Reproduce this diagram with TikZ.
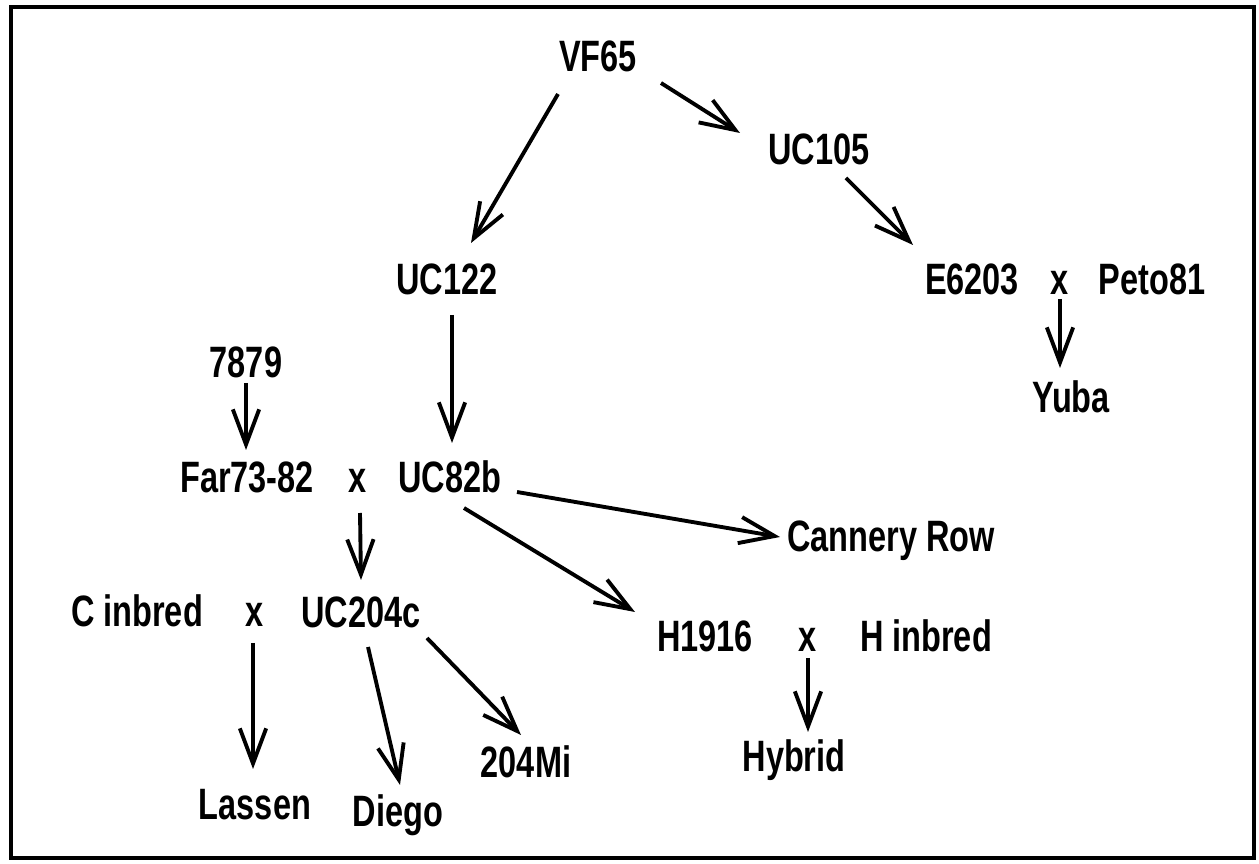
\documentclass[tikz,border=0pt]{standalone}
\usepackage{fontspec}
\setmainfont{Liberation Sans}[FakeStretch=0.74]
\usetikzlibrary{arrows.meta,calc}
\begin{document}
\begin{tikzpicture}[x=0.02cm,y=-0.02cm,
  lbl/.style={font=\fontsize{25}{28}\selectfont\bfseries, anchor=base, inner sep=0pt},
  arr/.style={line width=2.2pt, -{Straight Barb[length=20pt,width=15pt]}}]
\useasboundingbox (0,0) rectangle (1259,864);
\draw[line width=2.6pt] (11,7) rectangle (1254,858);
% nodes
\node[lbl] (vf)    at (598,72)  {VF65};
\node[lbl] (uc105) at (819,165) {UC105};
\node[lbl] (uc122) at (447,295) {UC122};
\node[lbl] (e6203) at (972,295) {E6203};
\node[lbl] (x3)    at (1060,295) {x};
\node[lbl] (peto)  at (1152,295) {Peto81};
\node[lbl] (yuba)  at (1071,413) {Yuba};
\node[lbl] (n7879) at (246,378) {7879};
\node[lbl] (far)   at (247,493) {Far73-82};
\node[lbl] (x1)    at (358,493) {x};
\node[lbl] (uc82b) at (450,493) {UC82b};
\node[lbl] (cann)  at (891,552) {Cannery Row};
\node[lbl] (cinb)  at (137,627) {C inbred};
\node[lbl] (x2)    at (255,627) {x};
\node[lbl] (uc204) at (361,628) {UC204c};
\node[lbl] (h1916) at (705,652) {H1916};
\node[lbl] (x4)    at (808,652) {x};
\node[lbl] (hinb)  at (926,652) {H inbred};
\node[lbl] (lass)  at (255,820) {Lassen};
\node[lbl] (diego) at (398,827) {Diego};
\node[lbl] (mi)    at (526,778) {204Mi};
\node[lbl] (hyb)   at (794,772) {Hybrid};
% connectors
\draw[arr] ($(vf.base)+(-40,22)$) -- ($(uc122.base)+(24,-52)$);
\draw[arr] ($(vf.base)+(63,11)$) -- ($(uc105.base)+(-79,-32)$);
\draw[arr] ($(uc105.base)+(27,13)$) -- ($(e6203.base)+(-59,-50)$);
\draw[arr] ($(x3.base)+(0,4)$) -- ($(yuba.base)+(-11,-45)$);
\draw[arr] ($(uc122.base)+(5,20)$) -- ($(uc82b.base)+(2,-50)$);
\draw[arr] ($(n7879.base)+(0,5)$) -- ($(far.base)+(-1,-43)$);
\draw[arr] ($(uc82b.base)+(67,-1)$) -- ($(cann.base)+(-111,-15)$);
\draw[arr] ($(uc82b.base)+(14,15)$) -- ($(h1916.base)+(-70,-40)$);
\draw[arr] ($(x1.base)+(2,20)$) -- ($(uc204.base)+(0,-48)$);
\draw[arr] ($(x2.base)+(-2,16)$) -- ($(lass.base)+(-2,-51)$);
\draw[arr] ($(uc204.base)+(7,19)$) -- ($(diego.base)+(2,-42)$);
\draw[arr] ($(uc204.base)+(66,10)$) -- ($(mi.base)+(-5,-43)$);
\draw[arr] ($(x4.base)+(0,6)$) -- ($(hyb.base)+(14,-40)$);
\end{tikzpicture}
\end{document}
